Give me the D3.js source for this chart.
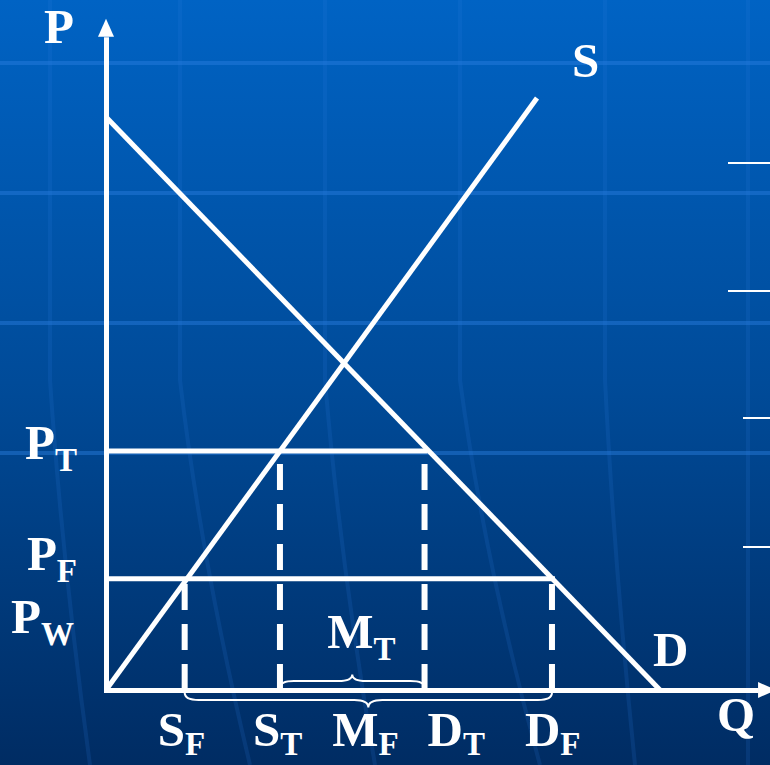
<!DOCTYPE html>
<html>
<head>
<meta charset="utf-8">
<script src="https://cdn.jsdelivr.net/npm/d3@7"></script>
<style>
  html, body { margin: 0; padding: 0; background: #003d80; }
  svg { display: block; }
  text { font-family: "Liberation Serif", "Times New Roman", serif; font-weight: bold; fill: #fff; }
</style>
</head>
<body>
<div id="chart"></div>
<script>
// curves (P = 100 where demand meets the price axis, Q = 100 where it meets the quantity axis)
var demand = [{q: 0, p: 100}, {q: 100, p: 0}];
var supply = [{q: 0, p: 0}, {q: 77.8, p: 103.3}];

// price levels: tariff and free trade
var prices = [
  {main: "P", sub: "T", p: 41.7, dq: 57.5},
  {main: "P", sub: "F", p: 19.4, dq: 80.5}
];
// world price, label only
var worldPrice = {main: "P", sub: "W", p: 11.3};

// quantities on the Q axis
var quantities = [
  {main: "S", sub: "F", q: 14.2, p: 19.4},
  {main: "S", sub: "T", q: 31.4, p: 41.7},
  {main: "D", sub: "T", q: 57.5, p: 41.7},
  {main: "D", sub: "F", q: 80.5, p: 19.4}
];

// imports: M_T between S_T and D_T, M_F between S_F and D_F
var imports = [
  {main: "M", sub: "T", from: 31.4, to: 57.5},
  {main: "M", sub: "F", from: 14.2, to: 80.5}
];

var axisTopP = 114, axisEndQ = 117.7;

var W = 770, H = 765;
var svg = d3.select("#chart").append("svg").attr("width", W).attr("height", H);

// slide background
var defs = svg.append("defs");
var grad = defs.append("linearGradient").attr("id", "bg").attr("x1", 0).attr("y1", 0).attr("x2", 0).attr("y2", 1);
grad.append("stop").attr("offset", "0").attr("stop-color", "#0063c4");
grad.append("stop").attr("offset", "0.5").attr("stop-color", "#004b99");
grad.append("stop").attr("offset", "1").attr("stop-color", "#002c63");
svg.append("rect").attr("width", W).attr("height", H).attr("fill", "url(#bg)");

var deco = svg.append("g").attr("fill", "none");
[63, 193, 323, 453].forEach(function (yy) {
  deco.append("line").attr("x1", 0).attr("x2", W).attr("y1", yy).attr("y2", yy)
    .attr("stroke", "#2a7ee0").attr("stroke-opacity", 0.45).attr("stroke-width", 4);
});
[[50, 40], [180, 70], [325, 50], [460, 80], [605, 30], [748, 0]].forEach(function (v) {
  deco.append("path")
    .attr("d", "M" + v[0] + ",0 L" + v[0] + ",380 Q" + (v[0] + v[1] * 0.3) + ",560 " + (v[0] + v[1]) + "," + H)
    .attr("stroke", "#2a7ee0").attr("stroke-opacity", 0.16).attr("stroke-width", 4);
});
[[728, 163], [728, 291], [743, 418], [743, 547]].forEach(function (d) {
  deco.append("line").attr("x1", d[0]).attr("x2", W).attr("y1", d[1]).attr("y2", d[1])
    .attr("stroke", "#fff").attr("stroke-width", 2);
});

var x = d3.scaleLinear().domain([0, 100]).range([106, 660]);
var y = d3.scaleLinear().domain([0, 100]).range([690, 117]);

var g = svg.append("g");

// axes (no ticks), with arrow heads
var xAxisScale = x.copy().domain([0, axisEndQ]).range([x(0) - 2.5, x(axisEndQ)]);
var yAxisScale = y.copy().domain([0, axisTopP]).range([y(0) + 2.5, y(axisTopP)]);
var xa = g.append("g").attr("transform", "translate(0," + y(0) + ")")
  .call(d3.axisBottom(xAxisScale).tickValues([]).tickSizeOuter(0));
var ya = g.append("g").attr("transform", "translate(" + x(0) + ",0)")
  .call(d3.axisLeft(yAxisScale).tickValues([]).tickSizeOuter(0));
[xa, ya].forEach(function (a) { a.select(".domain").attr("stroke", "#fff").attr("stroke-width", 5); });

g.append("path")
  .attr("d", "M" + x(axisEndQ) + "," + (y(0) - 8) + " L" + (x(axisEndQ) + 18) + "," + y(0) + " L" + x(axisEndQ) + "," + (y(0) + 8) + "Z")
  .attr("fill", "#fff");
g.append("path")
  .attr("d", "M" + (x(0) - 8) + "," + y(axisTopP) + " L" + x(0) + "," + (y(axisTopP) - 18) + " L" + (x(0) + 8) + "," + y(axisTopP) + "Z")
  .attr("fill", "#fff");

var line = d3.line().x(function (d) { return x(d.q); }).y(function (d) { return y(d.p); });

// dashed drops to the Q axis
g.selectAll(".drop").data(quantities).join("line")
  .attr("class", "drop")
  .attr("x1", function (d) { return x(d.q); }).attr("x2", function (d) { return x(d.q); })
  .attr("y1", y(0)).attr("y2", function (d) { return y(d.p); })
  .attr("stroke", "#fff").attr("stroke-width", 6).attr("stroke-dasharray", "26,14");

// price lines
g.selectAll(".price").data(prices).join("line")
  .attr("class", "price")
  .attr("x1", x(0)).attr("x2", function (d) { return x(d.dq) + 3; })
  .attr("y1", function (d) { return y(d.p); }).attr("y2", function (d) { return y(d.p); })
  .attr("stroke", "#fff").attr("stroke-width", 5);

g.append("path").datum(demand).attr("d", line).attr("fill", "none").attr("stroke", "#fff").attr("stroke-width", 5);
g.append("path").datum(supply).attr("d", line).attr("fill", "none").attr("stroke", "#fff").attr("stroke-width", 5);

// curly braces for imports
function brace(x1, x2, y0, h) {
  var m = (x1 + x2) / 2, yq = y0 + h / 2, r = 14;
  return "M" + x1 + "," + y0 + " Q" + x1 + "," + yq + " " + (x1 + r) + "," + yq +
    " L" + (m - r) + "," + yq + " Q" + m + "," + yq + " " + m + "," + (y0 + h) +
    " Q" + m + "," + yq + " " + (m + r) + "," + yq +
    " L" + (x2 - r) + "," + yq + " Q" + x2 + "," + yq + " " + x2 + "," + y0;
}
g.append("path").attr("d", brace(x(imports[0].from), x(imports[0].to), y(0) - 2.5, -13))
  .attr("fill", "none").attr("stroke", "#fff").attr("stroke-width", 2);
g.append("path").attr("d", brace(x(imports[1].from), x(imports[1].to), y(0) + 2.5, 15))
  .attr("fill", "none").attr("stroke", "#fff").attr("stroke-width", 2);

// labels
function label(sel, main, sub, xx, yy, anchor, subDy) {
  var t = sel.append("text").attr("x", xx).attr("y", yy).attr("font-size", 49).attr("text-anchor", anchor || "start");
  t.append("tspan").text(main);
  if (sub) t.append("tspan").attr("font-size", 33).attr("dy", subDy || 12).text(sub);
  return t;
}
var lab = svg.append("g");
label(lab, "P", null, x(0) - 62, y(axisTopP) + 6);
label(lab, "Q", null, x(axisEndQ) - 41, y(0) + 41);
label(lab, "S", null, x(supply[1].q) + 35, y(supply[1].p) - 21);
label(lab, "D", null, x(demand[1].q) - 7, y(demand[1].p) - 24);

var priceNudge = {T: 0, F: -17};
prices.forEach(function (d) {
  label(lab, d.main, d.sub, 77, y(d.p) + 8 + priceNudge[d.sub], "end");
});
label(lab, worldPrice.main, worldPrice.sub, 74, y(worldPrice.p) + 8, "end");

var qNudge = [0, 0, 30, 0];
quantities.forEach(function (d, i) {
  label(lab, d.main, d.sub, x(d.q) - 27 + qNudge[i], y(0) + 56, "start", 9);
});
label(lab, imports[0].main, imports[0].sub, (x(imports[0].from) + x(imports[0].to)) / 2 - 25, y(0) - 42);
label(lab, imports[1].main, imports[1].sub, (x(imports[1].from) + x(imports[1].to)) / 2 - 36, y(0) + 56, "start", 9);
</script>
</body>
</html>
